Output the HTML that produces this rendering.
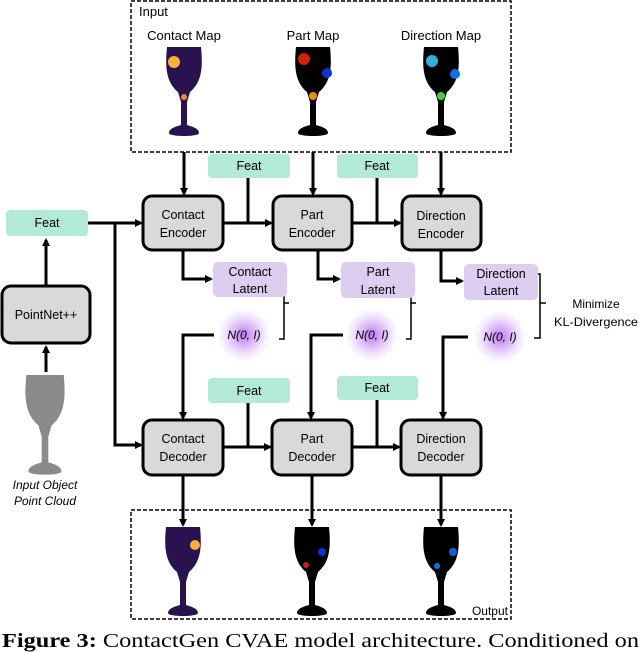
<!DOCTYPE html>
<html><head><meta charset="utf-8"><style>
body{margin:0;background:#fff;}
svg{display:block;font-family:"Liberation Sans",sans-serif;}
</style></head><body>
<svg width="640" height="652" viewBox="0 0 640 652">
<defs>
<marker id="a" markerWidth="8" markerHeight="8" refX="6" refY="4" orient="auto" markerUnits="userSpaceOnUse"><path d="M0,0 L8,4 L0,8Z" fill="#000"/></marker>
<radialGradient id="g"><stop offset="0" stop-color="#b566f0" stop-opacity="0.9"/><stop offset="0.5" stop-color="#c890f5" stop-opacity="0.5"/><stop offset="1" stop-color="#e8d0fb" stop-opacity="0"/></radialGradient>
<path id="gl" d="M-17,0 L17,0 C19,20 18,35 6,45 L3,55 L3,78 C10,80 15,82 15,86 C15,90 -15,90 -15,86 C-15,82 -10,80 -3,78 L-3,55 L-6,45 C-18,35 -19,20 -17,0Z"/>
</defs>
<rect x="131" y="1" width="380" height="151" fill="none" stroke="#000" stroke-width="1.5" stroke-dasharray="4,2"/>
<text x="139" y="16" font-size="13">Input</text>
<text x="184" y="40" font-size="13" text-anchor="middle">Contact Map</text>
<text x="313" y="40" font-size="13" text-anchor="middle">Part Map</text>
<text x="441" y="40" font-size="13" text-anchor="middle">Direction Map</text>
<use href="#gl" transform="translate(184,47)" fill="#2a1250"/>
<circle cx="174" cy="62" r="6" fill="#f5b13a"/><circle cx="184" cy="97" r="3" fill="#f08a2a"/>
<use href="#gl" transform="translate(313,47)" fill="#000"/>
<circle cx="304" cy="59" r="6" fill="#d02010"/><circle cx="327" cy="73" r="5" fill="#1030d0"/><circle cx="313" cy="96" r="4" fill="#f08a20"/>
<use href="#gl" transform="translate(441,47)" fill="#000"/>
<circle cx="432" cy="61" r="6" fill="#30b0e0"/><circle cx="455" cy="74" r="5" fill="#1070e0"/><circle cx="441" cy="96" r="4" fill="#40d040"/>
<rect x="131" y="510" width="380" height="109" fill="none" stroke="#000" stroke-width="1.5" stroke-dasharray="4,2"/>
<text x="508" y="615" font-size="12" text-anchor="end">Output</text>
<use href="#gl" transform="translate(183,527)" fill="#2a1250"/><circle cx="195" cy="545" r="5" fill="#f5b13a"/>
<use href="#gl" transform="translate(312,527)" fill="#000"/><circle cx="306" cy="565" r="3" fill="#d02010"/><circle cx="322" cy="552" r="4" fill="#1030d0"/>
<use href="#gl" transform="translate(441,527)" fill="#000"/><circle cx="437" cy="566" r="3" fill="#1070e0"/><circle cx="453" cy="552" r="4" fill="#1060e0"/>
<use href="#gl" transform="translate(45,375) scale(1.1,1.12)" fill="#8a8a8a"/>
<text x="45" y="489" font-size="12" font-style="italic" text-anchor="middle">Input Object</text>
<text x="45" y="505" font-size="12" font-style="italic" text-anchor="middle">Point Cloud</text>
<g stroke="#000" stroke-width="3" fill="none">
<line x1="184" y1="152" x2="184" y2="194" marker-end="url(#a)"/>
<line x1="313" y1="152" x2="313" y2="194" marker-end="url(#a)"/>
<line x1="441" y1="152" x2="441" y2="194" marker-end="url(#a)"/>
<line x1="46" y1="286" x2="46" y2="240" marker-end="url(#a)"/>
<line x1="46" y1="372" x2="46" y2="347" marker-end="url(#a)"/>
<line x1="88" y1="223" x2="141" y2="223" marker-end="url(#a)"/>
<polyline points="115,223 115,445 141,445" marker-end="url(#a)"/>
<line x1="223" y1="223" x2="271" y2="223" marker-end="url(#a)"/>
<line x1="248" y1="178" x2="248" y2="223"/>
<line x1="352" y1="223" x2="400" y2="223" marker-end="url(#a)"/>
<line x1="377" y1="178" x2="377" y2="223"/>
<polyline points="183,250 183,279 211,279" marker-end="url(#a)"/>
<polyline points="318,250 318,279 339,279" marker-end="url(#a)"/>
<polyline points="441,250 441,281 462,281" marker-end="url(#a)"/>
<polyline points="214,335 183,335 183,418" marker-end="url(#a)"/>
<polyline points="343,335 311,335 311,418" marker-end="url(#a)"/>
<polyline points="468,337 443,337 443,418" marker-end="url(#a)"/>
<line x1="223" y1="447" x2="270" y2="447" marker-end="url(#a)"/>
<line x1="248" y1="403" x2="248" y2="447"/>
<line x1="352" y1="447" x2="399" y2="447" marker-end="url(#a)"/>
<line x1="377" y1="400" x2="377" y2="447"/>
<line x1="183" y1="475" x2="183" y2="525" marker-end="url(#a)"/>
<line x1="312" y1="475" x2="312" y2="525" marker-end="url(#a)"/>
<line x1="441" y1="475" x2="441" y2="525" marker-end="url(#a)"/>
</g>
<g stroke="#000" stroke-width="1.5" fill="none">
<path d="M279,276 h5 v27 h5 M284,303 v36 h-5"/>
<path d="M406,276 h5 v27 h5 M411,303 v36 h-5"/>
<path d="M534,274 h6 v29 h6 M540,303 v35 h-6"/>
</g>
<text x="596" y="308" font-size="12" text-anchor="middle">Minimize</text>
<text x="554" y="326" font-size="12" textLength="84" lengthAdjust="spacingAndGlyphs">KL-Divergence</text>
<circle cx="244" cy="335" r="28" fill="url(#g)"/>
<circle cx="372" cy="335" r="28" fill="url(#g)"/>
<circle cx="500" cy="337" r="28" fill="url(#g)"/>
<g font-size="12" font-style="italic" text-anchor="middle">
<text x="244" y="339">N(0, I)</text><text x="372" y="339">N(0, I)</text><text x="500" y="341">N(0, I)</text>
</g>
<g stroke="#000" stroke-width="3" fill="#d9d9d9">
<rect x="143" y="196" width="80" height="54" rx="9"/>
<rect x="273" y="196" width="79" height="54" rx="9"/>
<rect x="402" y="196" width="79" height="54" rx="9"/>
<rect x="143" y="420" width="80" height="55" rx="9"/>
<rect x="272" y="420" width="80" height="55" rx="9"/>
<rect x="401" y="420" width="80" height="55" rx="9"/>
<rect x="2" y="286" width="88" height="57" rx="9"/>
</g>
<g fill="#b3ead6">
<rect x="208" y="154" width="82" height="24" rx="4"/>
<rect x="337" y="154" width="81" height="24" rx="4"/>
<rect x="6" y="210" width="82" height="26" rx="4"/>
<rect x="208" y="378" width="82" height="25" rx="4"/>
<rect x="337" y="376" width="81" height="24" rx="4"/>
</g>
<g fill="#ddcdf0">
<rect x="213" y="262" width="74" height="35" rx="5"/>
<rect x="341" y="262" width="74" height="36" rx="5"/>
<rect x="464" y="264" width="74" height="36" rx="5"/>
</g>
<g font-size="12.5" text-anchor="middle">
<text x="249" y="170">Feat</text><text x="377" y="170">Feat</text><text x="47" y="227">Feat</text>
<text x="249" y="395">Feat</text><text x="377" y="392">Feat</text>
<text x="183" y="219">Contact</text><text x="183" y="237">Encoder</text>
<text x="312" y="219">Part</text><text x="312" y="237">Encoder</text>
<text x="441" y="220">Direction</text><text x="441" y="238">Encoder</text>
<text x="183" y="443">Contact</text><text x="183" y="461">Decoder</text>
<text x="312" y="443">Part</text><text x="312" y="461">Decoder</text>
<text x="441" y="443">Direction</text><text x="441" y="461">Decoder</text>
<text x="46" y="319">PointNet++</text>
<text x="250" y="276">Contact</text><text x="250" y="293">Latent</text>
<text x="378" y="276">Part</text><text x="378" y="294">Latent</text>
<text x="501" y="278">Direction</text><text x="501" y="295">Latent</text>
</g>
<text x="2" y="647" font-family="Liberation Serif,serif" font-size="20" textLength="637" lengthAdjust="spacingAndGlyphs"><tspan font-weight="bold">Figure 3:</tspan> ContactGen CVAE model architecture. Conditioned on</text>
</svg>
</body></html>
